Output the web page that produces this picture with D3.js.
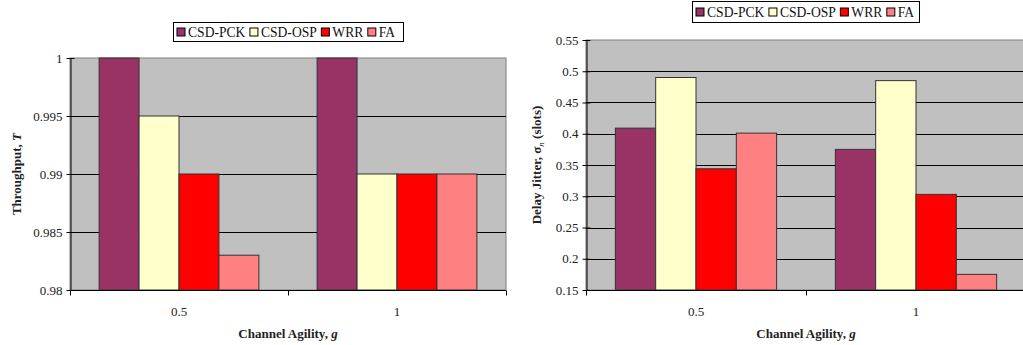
<!DOCTYPE html>
<html>
<head>
<meta charset="utf-8">
<script src="https://cdn.jsdelivr.net/npm/d3@7"></script>
<style>
  html, body { margin: 0; padding: 0; background: #fff; }
  svg { display: block; }
  svg text { font-family: "Liberation Serif", "Times New Roman", serif; }
</style>
</head>
<body>
<svg id="chart" width="1023" height="345"></svg>
<script>
// Channel agility values on the x axis
const categories = ["0.5", "1"];
const seriesNames = ["CSD-PCK", "CSD-OSP", "WRR", "FA"];
const seriesColors = ["#993366", "#FFFFCC", "#FF0000", "#FF8080"];

// Throughput per scheduler, one value per channel agility
const throughputPCK = [1.0, 1.0];
const throughputOSP = [0.995, 0.99];
const throughputWRR = [0.99, 0.99];
const throughputFA  = [0.983, 0.99];
const throughputTicks = [0.98, 0.985, 0.99, 0.995, 1];

// Delay jitter (slots) per scheduler
const jitterPCK = [0.409, 0.375];
const jitterOSP = [0.49, 0.485];
const jitterWRR = [0.344, 0.303];
const jitterFA  = [0.401, 0.175];
const jitterTicks = [0.15, 0.2, 0.25, 0.3, 0.35, 0.4, 0.45, 0.5, 0.55];

const SERIF = "'Liberation Serif', 'Times New Roman', serif";
const svg = d3.select("#chart");

function drawPanel(opts) {
  const { left, right, top, bottom, domain, ticks, series, legend, yLabel, clipId } = opts;
  const g = svg.append("g");

  const x = d3.scaleBand().domain(categories).range([left, right]);
  // bars occupy ~73% of each category band, centered
  const barGroupW = x.bandwidth() * 0.733;
  const innerScale = d3.scaleBand().domain(seriesNames)
    .range([(x.bandwidth() - barGroupW) / 2, (x.bandwidth() + barGroupW) / 2]);
  const y = d3.scaleLinear().domain(domain).range([bottom, top]);

  svg.append("clipPath").attr("id", clipId)
    .append("rect").attr("x", left).attr("y", top - 1).attr("width", right - left).attr("height", bottom - top + 2);

  // plot background
  g.append("rect").attr("x", left).attr("y", top)
    .attr("width", right - left).attr("height", bottom - top)
    .attr("fill", "#C0C0C0").attr("stroke", "#808080").attr("stroke-width", 1);

  // horizontal gridlines
  g.append("g").selectAll("line").data(ticks.slice(1, -1)).join("line")
    .attr("x1", left).attr("x2", right)
    .attr("y1", d => Math.round(y(d)) + 0.5).attr("y2", d => Math.round(y(d)) + 0.5)
    .attr("stroke", "#000").attr("stroke-width", 1);

  // bars
  const bars = g.append("g").attr("clip-path", `url(#${clipId})`);
  categories.forEach((c, ci) => {
    series.forEach((vals, si) => {
      const v = vals[ci];
      bars.append("rect")
        .attr("x", x(c) + innerScale(seriesNames[si]))
        .attr("y", y(v))
        .attr("width", innerScale.bandwidth())
        .attr("height", y(domain[0]) - y(v))
        .attr("fill", seriesColors[si])
        .attr("stroke", "#333").attr("stroke-width", 1);
    });
  });

  // y axis
  const yAxis = d3.axisLeft(y).tickValues(ticks).tickSize(4).tickSizeOuter(0)
    .tickFormat(d => d3.format("")(+d.toFixed(3)));
  const ya = g.append("g").attr("transform", `translate(${left + 0.5},0)`).call(yAxis);
  ya.attr("font-family", SERIF);
  ya.select(".domain").attr("stroke", "#000");
  ya.selectAll(".tick line").attr("stroke", "#000").attr("x2", 4).attr("x1", -4);
  ya.selectAll(".tick text").attr("x", -8).attr("font-size", 13)
    .attr("font-family", SERIF).attr("fill", "#222");

  // x axis
  const xa = g.append("g").attr("transform", `translate(0,${bottom + 0.5})`);
  xa.append("line").attr("x1", left).attr("x2", right).attr("stroke", "#000");
  const bounds = [left, ...categories.map(c => x(c) + x.bandwidth())];
  xa.selectAll("line.tk").data(bounds).join("line").attr("class", "tk")
    .attr("x1", d => Math.round(d) + 0.5).attr("x2", d => Math.round(d) + 0.5)
    .attr("y1", 0).attr("y2", 5).attr("stroke", "#000");
  xa.selectAll("text").data(categories).join("text")
    .attr("x", d => x(d) + x.bandwidth() / 2).attr("y", 25)
    .attr("text-anchor", "middle").attr("font-size", 13).attr("fill", "#222").text(d => d);

  // x axis title
  const xt = g.append("text").attr("x", (left + right) / 2).attr("y", bottom + 48)
    .attr("text-anchor", "middle").attr("font-size", 13).attr("font-weight", "bold").attr("fill", "#222");
  xt.append("tspan").text("Channel Agility, ");
  xt.append("tspan").attr("font-style", "italic").text("g");

  // y axis title
  const yt = g.append("text")
    .attr("transform", `translate(${yLabel.x},${(top + bottom) / 2}) rotate(-90)`)
    .attr("text-anchor", "middle").attr("font-size", 13).attr("font-weight", "bold").attr("fill", "#222");
  yLabel.parts.forEach(p => {
    const t = yt.append("tspan").text(p.text);
    if (p.italic) t.attr("font-style", "italic");
    if (p.dy) t.attr("dy", p.dy);
    if (p.size) t.attr("font-size", p.size);
    if (p.normal) t.attr("font-weight", "normal");
  });

  // legend
  const lg = g.append("g");
  lg.append("rect").attr("x", legend.x + 0.5).attr("y", legend.y + 0.5)
    .attr("width", legend.w).attr("height", legend.h)
    .attr("fill", "#fff").attr("stroke", "#000");
  let cx = legend.x + 3.5;
  seriesNames.forEach((name, i) => {
    lg.append("rect").attr("x", cx + 0.5).attr("y", legend.y + legend.h / 2 - 3.5)
      .attr("width", 8).attr("height", 8).attr("fill", seriesColors[i]).attr("stroke", "#000");
    const t = lg.append("text").attr("x", cx + 11.5).attr("y", legend.y + legend.h / 2 + 5)
      .attr("font-size", 13.6).attr("fill", "#111").text(name);
    cx += 11.5 + t.node().getComputedTextLength() + 4;
  });
}

drawPanel({
  left: 70, right: 506, top: 58, bottom: 290,
  domain: [0.98, 1], ticks: throughputTicks,
  series: [throughputPCK, throughputOSP, throughputWRR, throughputFA],
  legend: { x: 173, y: 22, w: 230, h: 19 },
  yLabel: { x: 21, parts: [{ text: "Throughput, " }, { text: "T", italic: true }] },
  clipId: "clipA"
});

drawPanel({
  left: 586, right: 1026, top: 40, bottom: 290,
  domain: [0.15, 0.55], ticks: jitterTicks,
  series: [jitterPCK, jitterOSP, jitterWRR, jitterFA],
  legend: { x: 692, y: 1, w: 227, h: 21 },
  yLabel: { x: 541, parts: [
    { text: "Delay Jitter, " },
    { text: "σ" },
    { text: "n", dy: 3, size: 9, normal: true, italic: true },
    { text: "  (slots)", dy: -3 }
  ] },
  clipId: "clipB"
});
</script>
</body>
</html>
